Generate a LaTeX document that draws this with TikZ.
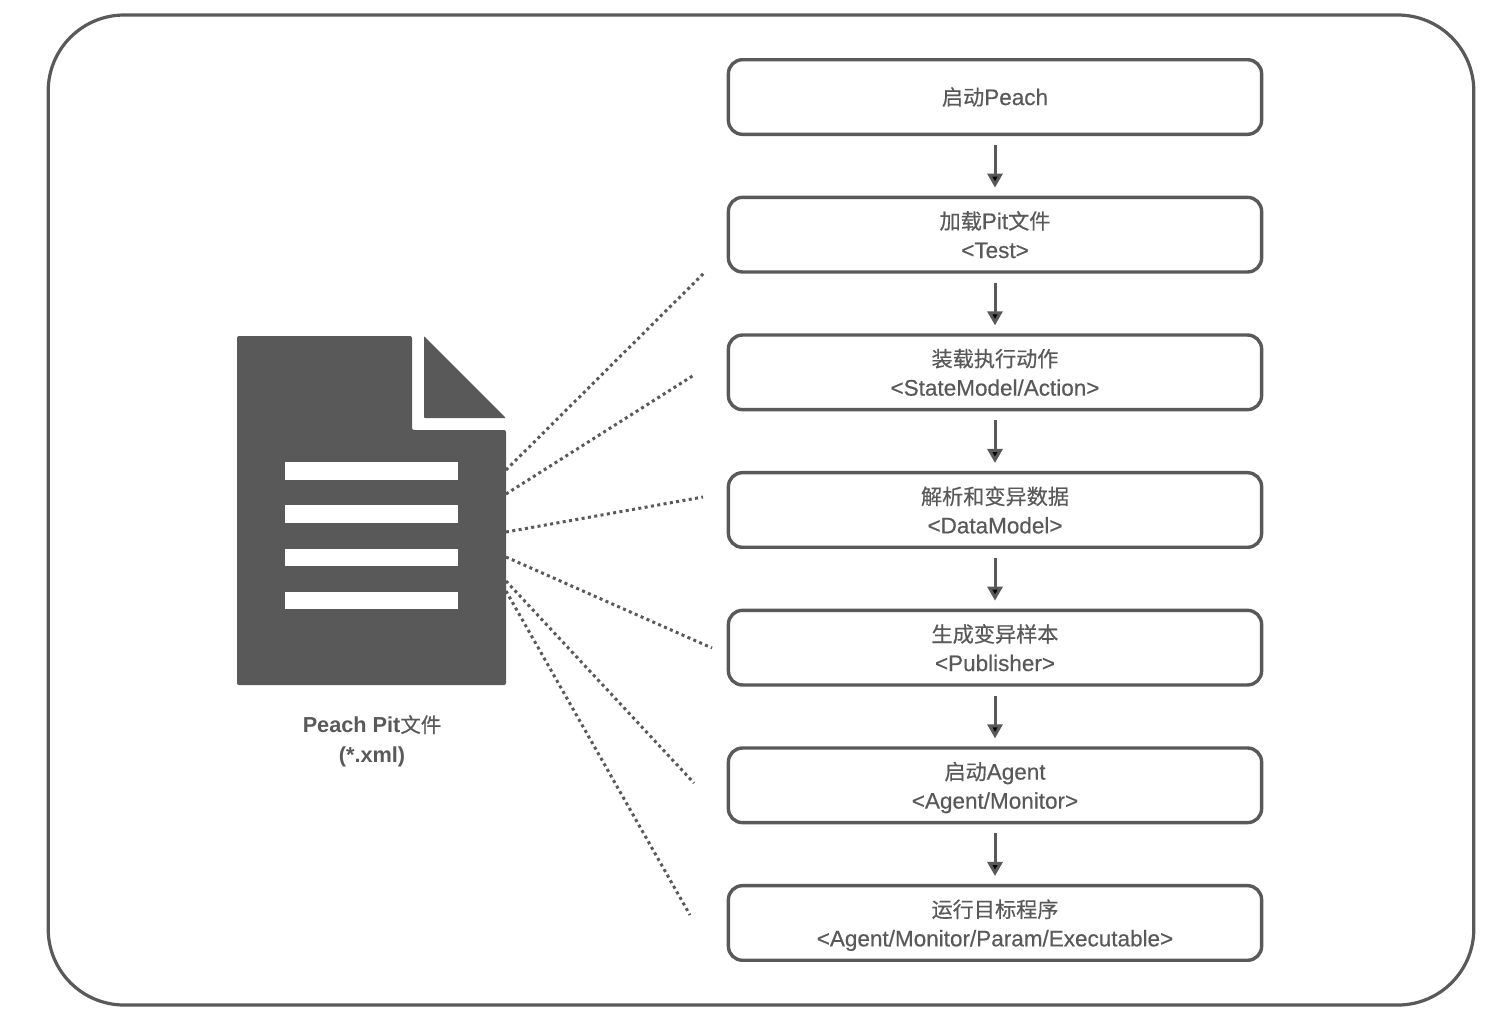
\documentclass[tikz,border=0pt]{standalone}
\usepackage{fontspec}
\setmainfont{Liberation Sans}[RawFeature={embolden=0.5}]
\newfontfamily\cjk{Noto Sans CJK SC}[Scale=0.94,RawFeature={embolden=0.5}]
\newfontfamily\pitfont{Liberation Sans Bold}
\usetikzlibrary{positioning,arrows.meta}

\definecolor{darkgrey}{HTML}{595959}
\newcommand{\zh}[1]{{\cjk #1}}
\newcommand{\flatline}[1]{\smash{#1}\vphantom{/}}

\tikzset{
  stepbox/.style={draw=darkgrey,rectangle,rounded corners=7pt,line width=1.7pt,minimum width=266.6pt,minimum height=37.3pt,inner sep=0pt,align=center,text=darkgrey,font=\fontsize{11.25}{14.5}\selectfont},
  steparrow/.style={-{Triangle[width=7.5pt,length=7pt]},draw=darkgrey,line width=1.5pt,shorten <=4.5pt,shorten >=4pt},
  pitlink/.style={draw=darkgrey,line width=1.5pt,dash pattern=on 1.5pt off 1.7pt}
}

\begin{document}
\begin{tikzpicture}[x=0.5pt,y=-0.5pt,node distance=29.83pt]

\useasboundingbox (0,0) rectangle (1508,1030);

\node[draw=darkgrey,rectangle,rounded corners=38pt,line width=1.6pt,minimum width=712.8pt,minimum height=495pt] (frame) at (761,510) {};

\node[stepbox] (1) at (995,97) {\zh{启动}Peach};
\node[stepbox] (2) [below=of 1] {\zh{加载}Pit\zh{文件}\\<Test>};
\node[stepbox] (3) [below=of 2] {\zh{装载执行动作}\\<StateModel/Action>};
\node[stepbox] (4) [below=of 3] {\zh{解析和变异数据}\\<DataModel>};
\node[stepbox] (5) [below=of 4] {\zh{生成变异样本}\\<Publisher>};
\node[stepbox] (6) [below=of 5] {\zh{启动}Agent\\\flatline{<Agent/Monitor>}};
\node[stepbox] (7) [below=of 6] {\zh{运行目标程序}\\\flatline{<Agent/Monitor/Param/Executable>}};

\path[steparrow]
(1) edge (2)
(2) edge (3)
(3) edge (4)
(4) edge (5)
(5) edge (6)
(6) edge (7);

% document icon
\fill[darkgrey,rounded corners=1pt] (237,336) -- (412,336) -- (412,430) -- (506,430) -- (506,685) -- (237,685) -- cycle;
\fill[darkgrey,rounded corners=0.5pt] (424,336) -- (506,418) -- (424,418) -- cycle;
\foreach \bartop/\barbottom in {462/480,505/523,549/566,592/609}
  \fill[white] (285,\bartop) rectangle (458,\barbottom);

\node[text=darkgrey,align=center,font=\fontsize{10.85}{15}\selectfont\pitfont] (pit) at (372,741) {Peach Pit{\cjk 文件}\\(*.xml)};

\coordinate (a1) at (506,470);
\coordinate (a2) at (506,494);
\coordinate (a3) at (506,532);
\coordinate (a4) at (506,557);
\coordinate (a5) at (506,581);
\coordinate (a6) at (506,591);
\coordinate (b1) at (705,272);
\coordinate (b2) at (694,375);
\coordinate (b3) at (703,497);
\coordinate (b4) at (712,648);
\coordinate (b5) at (694,783);
\coordinate (b6) at (690,915);

\path[pitlink]
(a1) edge (b1)
(a2) edge (b2)
(a3) edge (b3)
(a4) edge (b4)
(a5) edge (b5)
(a6) edge (b6);

\end{tikzpicture}
\end{document}
